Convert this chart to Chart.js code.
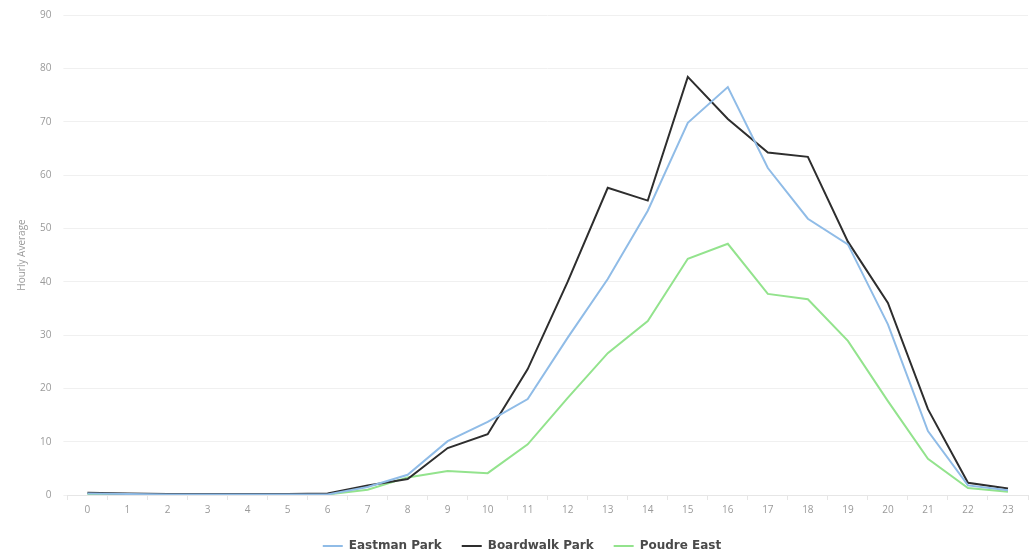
<!DOCTYPE html>
<html>
<head>
<meta charset="utf-8">
<script src="https://cdn.jsdelivr.net/npm/chart.js@4"></script>
<style>
  html, body { margin: 0; padding: 0; background: #fff; overflow: hidden; }
  #wrap { width: 1030px; height: 561px; position: relative; margin-top: -3px; }
</style>
</head>
<body>
<div id="wrap"><canvas id="hourly-data"></canvas></div>
<script>
const hours = ['0','1','2','3','4','5','6','7','8','9','10','11','12','13','14','15','16','17','18','19','20','21','22','23'];

const eastmanPark = [0.3, 0.2, 0.1, 0.1, 0.1, 0.1, 0.1, 1.5, 3.8, 10.1, 13.7, 18, 29.5, 40.5, 53.3, 69.8, 76.5, 61.3, 51.8, 47, 32, 12, 1.8, 0.9];
const boardwalkPark = [0.4, 0.3, 0.2, 0.2, 0.2, 0.2, 0.3, 1.8, 3, 8.8, 11.4, 23.6, 40, 57.6, 55.2, 78.4, 70.5, 64.2, 63.4, 47.5, 36, 16.1, 2.3, 1.2];
const poudreEast = [0.2, 0.1, 0.1, 0.1, 0.1, 0.1, 0.1, 1, 3.3, 4.5, 4.1, 9.5, 18.2, 26.6, 32.6, 44.3, 47.1, 37.7, 36.7, 28.9, 17.6, 6.8, 1.3, 0.6];

document.addEventListener('DOMContentLoaded', function() {
    const ctx = document.getElementById('hourly-data').getContext('2d');

    function lineSet(label, values, color, width) {
        return {
            label: label,
            data: values,
            borderColor: color,
            backgroundColor: color,
            borderWidth: width,
            pointRadius: 0,
            tension: 0,
            fill: false
        };
    }

    // pull the legend a little closer to the bottom edge
    const legendNudge = {
        id: 'legendNudge',
        beforeInit(chart) {
            const fit = chart.legend.fit;
            chart.legend.fit = function() {
                fit.call(this);
                this.height -= 4;
            };
        }
    };

    new Chart(ctx, {
        type: 'line',
        data: {
            labels: hours,
            datasets: [
                lineSet('Eastman Park', eastmanPark, '#90bce7', 2),
                lineSet('Boardwalk Park', boardwalkPark, '#2e2e2e', 2),
                lineSet('Poudre East', poudreEast, '#93e38d', 2)
            ]
        },
        plugins: [legendNudge],
        options: {
            responsive: true,
            maintainAspectRatio: false,
            animation: false,
            layout: {
                padding: { top: 3, right: 2, left: 16, bottom: 0 }
            },
            plugins: {
                legend: {
                    display: true,
                    position: 'bottom',
                    labels: {
                        usePointStyle: true,
                        pointStyle: 'line',
                        pointStyleWidth: 20,
                        color: '#4a4a4a',
                        font: { family: 'DejaVu Sans', size: 12, weight: 'bold' },
                        padding: 20
                    }
                },
                tooltip: { enabled: false }
            },
            scales: {
                x: {
                    offset: true,
                    grid: {
                        offset: true,
                        drawOnChartArea: false,
                        drawTicks: true,
                        tickLength: 5,
                        color: '#e6e6e6'
                    },
                    border: { color: '#e6e6e6', dash: [3, 3] },
                    ticks: {
                        color: '#9a9a9a',
                        font: { family: 'Open Sans', size: 10 },
                        maxRotation: 0,
                        padding: 4
                    }
                },
                y: {
                    min: 0,
                    max: 90,
                    ticks: {
                        stepSize: 10,
                        color: '#9a9a9a',
                        font: { family: 'Open Sans', size: 10 },
                        padding: 12
                    },
                    grid: {
                        color: '#f0f0f0',
                        tickLength: 4
                    },
                    border: { display: false },
                    title: {
                        display: true,
                        text: 'Hourly Average',
                        color: '#9a9a9a',
                        font: { family: 'Open Sans', size: 10 },
                        padding: 0
                    }
                }
            }
        }
    });
});
</script>
</body>
</html>
